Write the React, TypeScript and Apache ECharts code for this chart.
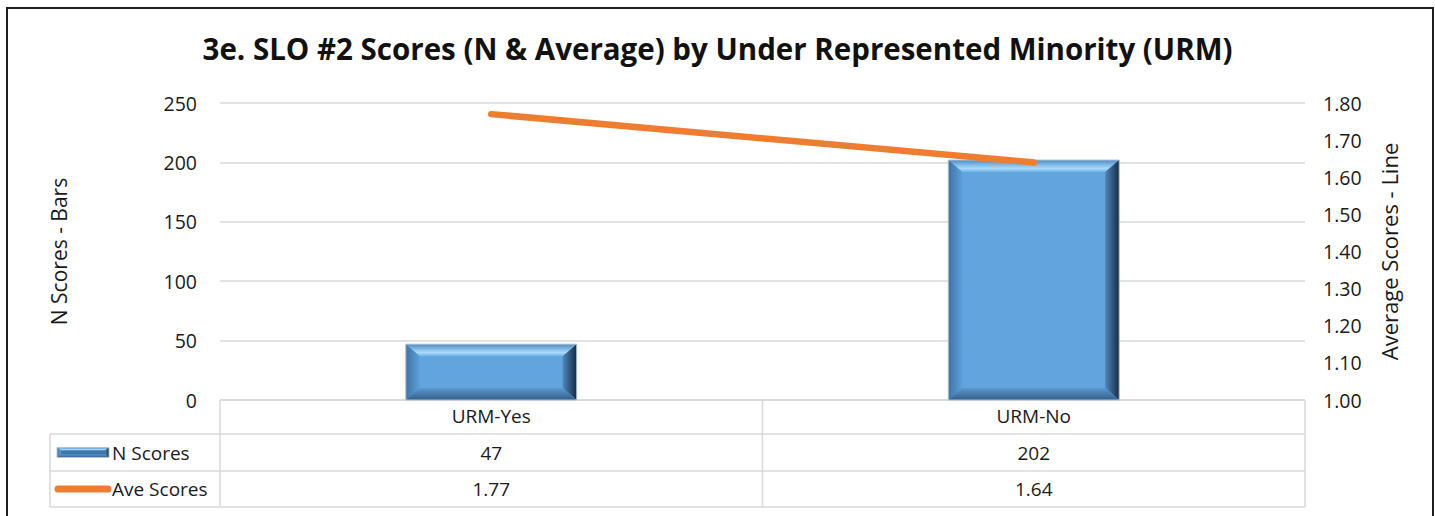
import React, { useEffect, useRef } from "react";
import * as echarts from "echarts";

const titleText = "3e. SLO #2 Scores (N & Average) by Under Represented Minority (URM)";
const categories = ["URM-Yes", "URM-No"];
const nScores = [47, 202];
const aveScores = [1.77, 1.64];
const seriesNames = ["N Scores", "Ave Scores"];
const leftAxisName = "N Scores - Bars";
const rightAxisName = "Average Scores - Line";

const FONT = "'Open Sans', 'Noto Sans', sans-serif";
const TXT = "#1a1a1a";
const GRID = "#d9d9d9";

function lg(x: number, y: number, x2: number, y2: number, stops: [number, string][]) {
  return new echarts.graphic.LinearGradient(
    x, y, x2, y2,
    stops.map(([offset, color]) => ({ offset, color }))
  );
}

function bevelChildren(x0: number, y0: number, x1: number, y1: number, b: number, bv: number, face = "#62a4de") {
  const w = x1 - x0;
  const h = y1 - y0;
  const bh = Math.min(b, w / 2);
  const bvv = Math.min(bv, h / 2);
  return [
    { type: "rect", shape: { x: x0, y: y0, width: w, height: h }, style: { fill: face } },
    {
      type: "polygon",
      shape: { points: [[x0, y0], [x1, y0], [x1 - bh, y0 + bvv], [x0 + bh, y0 + bvv]] },
      style: { fill: lg(0, 0, 0, 1, [[0, "#4f8cc6"], [0.7, "#a8dafb"], [1, "#70b2e8"]]) },
    },
    {
      type: "polygon",
      shape: { points: [[x0, y0], [x0 + bh, y0 + bvv], [x0 + bh, y1 - bvv], [x0, y1]] },
      style: { fill: lg(0, 0, 1, 0, [[0, "#3d74a9"], [1, "#5e9fd9"]]) },
    },
    {
      type: "polygon",
      shape: { points: [[x1, y0], [x1, y1], [x1 - bh, y1 - bvv], [x1 - bh, y0 + bvv]] },
      style: { fill: lg(0, 0, 1, 0, [[0, "#4f86bb"], [1, "#152c44"]]) },
    },
    {
      type: "polygon",
      shape: { points: [[x0, y1], [x1, y1], [x1 - bh, y1 - bvv], [x0 + bh, y1 - bvv]] },
      style: { fill: lg(0, 0, 0, 1, [[0, "#5b98d0"], [1, "#335f8a"]]) },
    },
    {
      type: "rect",
      shape: { x: x0, y: y0, width: w, height: h },
      style: { fill: "none", stroke: "#b4c2d0", lineWidth: 1 },
    },
  ];
}

export default function App() {
  const ref = useRef<HTMLDivElement>(null);

  useEffect(() => {
    if (!ref.current) return;
    const chart = echarts.init(ref.current, undefined, { renderer: "svg" });

    const option: any = {
      animation: false,
      backgroundColor: "#ffffff",
      textStyle: { fontFamily: FONT },
      title: {
        text: titleText,
        left: "center",
        top: 28,
        textStyle: { fontFamily: FONT, fontSize: 29.5, fontWeight: "bold", color: "#111" },
      },
      grid: { left: 220, right: 130, top: 103, bottom: 116, containLabel: false },
      xAxis: {
        type: "category",
        data: categories,
        axisLine: { show: false },
        axisTick: { show: false },
        axisLabel: { margin: 6, fontSize: 19, color: TXT, fontFamily: FONT },
      },
      yAxis: [
        {
          type: "value",
          min: 0,
          max: 250,
          interval: 50,
          name: leftAxisName,
          nameLocation: "middle",
          nameGap: 151,
          nameRotate: 90,
          nameTextStyle: { fontSize: 21, color: TXT, fontFamily: FONT },
          axisLine: { show: false },
          axisTick: { show: false },
          axisLabel: { margin: 23, fontSize: 19.5, color: TXT, fontFamily: FONT },
          splitLine: { lineStyle: { color: GRID, width: 1.5 } },
        },
        {
          type: "value",
          min: 1,
          max: 1.8,
          interval: 0.1,
          position: "right",
          name: rightAxisName,
          nameLocation: "middle",
          nameGap: 73,
          nameRotate: 90,
          nameTextStyle: { fontSize: 22, color: TXT, fontFamily: FONT },
          axisLine: { show: false },
          axisTick: { show: false },
          axisLabel: {
            margin: 18,
            fontSize: 19.5,
            color: TXT,
            fontFamily: FONT,
            formatter: (v: number) => v.toFixed(2),
          },
          splitLine: { show: false },
        },
      ],
      series: [
        {
          name: seriesNames[0],
          type: "custom",
          yAxisIndex: 0,
          data: nScores.map((v, i) => [i, v]),
          encode: { x: 0, y: 1 },
          renderItem: (params: any, api: any) => {
            const idx = api.value(0);
            const v = api.value(1);
            const top = api.coord([idx, v]);
            const base = api.coord([idx, 0]);
            const bw = api.size([1, 0])[0] * 0.315;
            const x0 = top[0] - bw / 2;
            const x1 = top[0] + bw / 2;
            return { type: "group", children: bevelChildren(x0, top[1], x1, base[1], 14, 12) };
          },
        },
        {
          name: seriesNames[1],
          type: "line",
          yAxisIndex: 1,
          data: aveScores,
          showSymbol: false,
          symbol: "none",
          lineStyle: { color: "#ed7d31", width: 6.5, cap: "round" },
          itemStyle: { color: "#ed7d31" },
          z: 5,
        },
      ],
    };
    chart.setOption(option);

    // build the data table under the plot from the axis scale
    const centers = categories.map((c) => chart.convertToPixel({ xAxisIndex: 0 }, c) as number);
    const half = centers.length > 1 ? (centers[1] - centers[0]) / 2 : 271;
    const tLeft = centers[0] - half;
    const tRight = centers[centers.length - 1] + half;
    const yTop = chart.convertToPixel({ yAxisIndex: 0 }, 0) as number;
    const rowY = [yTop, yTop + 34, yTop + 71, yTop + 107];
    const colLeft = 50;
    const lineStyle = { stroke: GRID, lineWidth: 1.5 };
    const g: any[] = [];

    // outer chart border
    g.push({
      type: "rect",
      shape: { x: 7, y: 8, width: 1426, height: 700 },
      style: { fill: "none", stroke: "#1e1e1e", lineWidth: 2 },
      silent: true,
    });

    // horizontal lines
    g.push({ type: "line", shape: { x1: tLeft, y1: rowY[0], x2: tRight, y2: rowY[0] }, style: lineStyle });
    for (let r = 1; r < rowY.length; r++) {
      g.push({ type: "line", shape: { x1: colLeft, y1: rowY[r], x2: tRight, y2: rowY[r] }, style: lineStyle });
    }
    // vertical lines
    g.push({ type: "line", shape: { x1: colLeft, y1: rowY[1], x2: colLeft, y2: rowY[3] }, style: lineStyle });
    const vx = [tLeft, ...centers.slice(0, -1).map((c) => c + half), tRight];
    vx.forEach((x) => {
      g.push({ type: "line", shape: { x1: x, y1: rowY[0], x2: x, y2: rowY[3] }, style: lineStyle });
    });

    const rows = [
      { name: seriesNames[0], values: nScores.map((v) => String(v)) },
      { name: seriesNames[1], values: aveScores.map((v) => v.toFixed(2)) },
    ];
    rows.forEach((row, r) => {
      const cy = (rowY[r + 1] + rowY[r + 2]) / 2;
      g.push({
        type: "text",
        x: 112,
        y: cy,
        style: { text: row.name, fontSize: 19, fontFamily: FONT, fill: TXT, align: "left", verticalAlign: "middle" },
      });
      row.values.forEach((val, i) => {
        g.push({
          type: "text",
          x: centers[i],
          y: cy,
          style: { text: val, fontSize: 19, fontFamily: FONT, fill: TXT, align: "center", verticalAlign: "middle" },
        });
      });
    });

    // legend keys
    const k1y = (rowY[1] + rowY[2]) / 2;
    g.push({
      type: "group",
      children: bevelChildren(57, k1y - 5, 109, k1y + 5, 4, 3, "#3f77ad"),
    });
    const k2y = (rowY[2] + rowY[3]) / 2;
    g.push({
      type: "line",
      shape: { x1: 58, y1: k2y, x2: 108, y2: k2y },
      style: { stroke: "#ed7d31", lineWidth: 7, lineCap: "round" },
    });

    chart.setOption({ graphic: { elements: g } });

    return () => chart.dispose();
  }, []);

  return (
    <div
      ref={ref}
      style={{ position: "absolute", left: 0, top: 0, width: 1435, height: 516 }}
    />
  );
}
